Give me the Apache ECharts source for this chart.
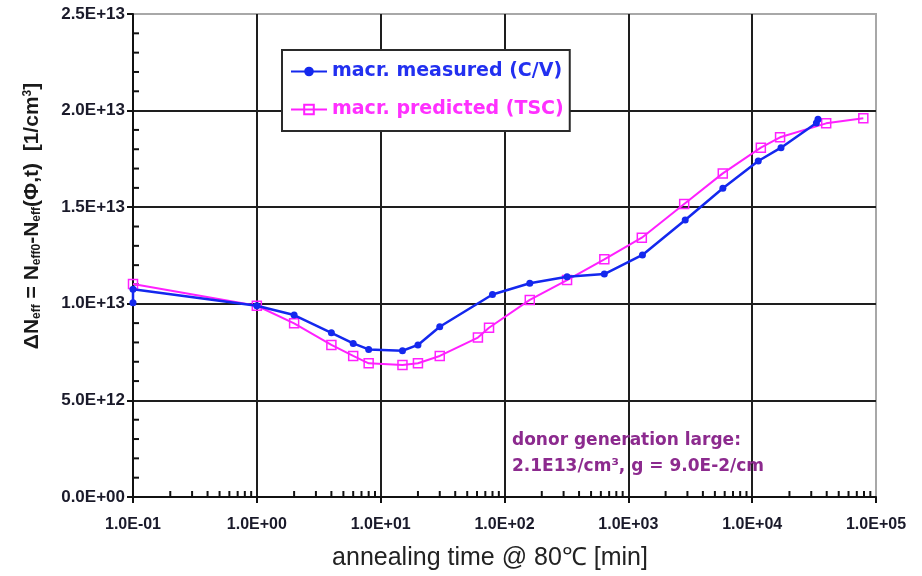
<!DOCTYPE html>
<html>
<head>
<meta charset="utf-8">
<script src="https://cdn.jsdelivr.net/npm/echarts@6/dist/echarts.min.js"></script>
<style>html,body{margin:0;padding:0;background:#fff}#c{width:922px;height:576px}</style>
</head>
<body>
<div id="c"></div>
<script>
// annealing time [min]
const measuredTime = [0.1, 0.1, 1, 2, 4, 6, 8, 15, 20, 30, 80, 160, 320, 640, 1300, 2880, 5800, 11200, 17100, 33000, 34000];
const measuredN = [1.005e13, 1.075e13, 9.9e12, 9.42e12, 8.50e12, 7.95e12, 7.64e12, 7.57e12, 7.87e12, 8.81e12, 1.048e13, 1.106e13, 1.140e13, 1.154e13, 1.253e13, 1.434e13, 1.598e13, 1.739e13, 1.808e13, 1.936e13, 1.955e13];
const predictedTime = [0.1, 1, 2, 4, 6, 8, 15, 20, 30, 61, 75, 160, 320, 640, 1285, 2825, 5790, 11750, 16800, 39600, 79000];
const predictedN = [1.102e13, 9.9e12, 8.99e12, 7.87e12, 7.30e12, 6.92e12, 6.83e12, 6.92e12, 7.30e12, 8.25e12, 8.76e12, 1.020e13, 1.123e13, 1.230e13, 1.342e13, 1.517e13, 1.675e13, 1.808e13, 1.862e13, 1.934e13, 1.960e13];
const xDecades = [0.1, 1, 10, 100, 1000, 10000, 100000];
const yTicks = [0, 5e12, 1e13, 1.5e13, 2e13, 2.5e13];
const seriesNames = ['macr. measured (C/V)', 'macr. predicted (TSC)'];
const annotationLines = ['donor generation large:', '2.1E13/cm³, g = 9.0E-2/cm'];
const xTitle = 'annealing time @ 80℃ [min]';
const yTitle = 'ΔN{s|eff} = N{s|eff0}-N{s|eff}(Φ,t)  [1/cm{p|3}]';

const xMinor = [];
for (let i = 0; i < xDecades.length - 1; i++) for (let k = 2; k <= 9; k++) xMinor.push([xDecades[i] * k, 0]);
const yMinor = [];
for (let i = 0; i < yTicks.length - 1; i++) for (let k = 1; k <= 4; k++) yMinor.push([0.1, yTicks[i] + k * 1e12]);

function expFmt(v) {
  if (v === 0) return '0.0E+00';
  const e = Math.floor(Math.log10(v) + 1e-9);
  const m = v / Math.pow(10, e);
  const a = Math.abs(e);
  return m.toFixed(1) + 'E' + (e < 0 ? '-' : '+') + (a < 10 ? '0' : '') + a;
}

const chart = echarts.init(document.getElementById('c'), null, {renderer: 'canvas'});
const gridColor = '#1e1e1e';
const FF = 'Liberation Sans, Arial, sans-serif';
const option = {
  animation: false,
  grid: {left: 133, top: 14, right: 46, bottom: 79, show: true, borderColor: '#a8a8a8', borderWidth: 2, backgroundColor: 'transparent'},
  legend: {
    left: 282, top: 50, orient: 'vertical', itemWidth: 36, itemHeight: 12, itemGap: 19,
    padding: [12, 6, 12, 8], backgroundColor: '#fff', borderColor: '#2a2a2a', borderWidth: 2, z: 10,
    data: [
      {name: seriesNames[0], textStyle: {color: '#2230f0'}},
      {name: seriesNames[1], textStyle: {color: '#ff30ff'}}
    ],
    textStyle: {fontFamily: 'DejaVu Sans', fontWeight: 'bold', fontSize: 19}
  },
  xAxis: {
    type: 'log', logBase: 10, min: 0.1, max: 100000,
    axisLine: {lineStyle: {color: '#111', width: 2}},
    axisTick: {show: true, length: 6, lineStyle: {color: '#111', width: 2}},
    axisLabel: {formatter: expFmt, margin: 20, fontFamily: FF, fontWeight: 'bold', fontSize: 16, color: '#1a1a2a'},
    splitLine: {show: true, showMaxLine: false, lineStyle: {color: gridColor, width: 2}}
  },
  yAxis: {
    type: 'value', min: 0, max: 2.5e13, interval: 5e12,
    axisLine: {show: true, lineStyle: {color: '#111', width: 2}},
    axisTick: {show: true, length: 6, lineStyle: {color: '#111', width: 2}},
    axisLabel: {formatter: expFmt, margin: 8, fontFamily: FF, fontWeight: 'bold', fontSize: 17, color: '#1a1a2a'},
    splitLine: {show: true, showMaxLine: false, lineStyle: {color: gridColor, width: 2}}
  },
  graphic: [
    {type: 'text', left: 512, top: 428, z: 5,
     style: {text: annotationLines.join('\n'), fill: '#8c2a8e', font: 'bold 17px "DejaVu Sans"', lineHeight: 26}},
    {type: 'text', x: 490, y: 558, z: 5,
     style: {text: xTitle, fill: '#222', font: '25px "Liberation Sans"', align: 'center', verticalAlign: 'middle'}},
    {type: 'text', x: 32, y: 216, rotation: Math.PI / 2, z: 5,
     style: {text: yTitle, fill: '#1a1a1a', font: 'bold 21px "Liberation Sans"', align: 'center', verticalAlign: 'middle',
       rich: {
         s: {font: 'bold 12px "Liberation Sans"', fill: '#1a1a1a', verticalAlign: 'bottom', padding: [8, 0, 0, 0]},
         p: {font: 'bold 12px "Liberation Sans"', fill: '#1a1a1a', verticalAlign: 'top', padding: [0, 0, 8, 0]}
       }}}
  ],
  series: [
    {
      type: 'custom', silent: true, z: 1, clip: false,
      renderItem: function (params, api) {
        const p = api.coord([api.value(0), api.value(1)]);
        return {type: 'line', shape: {x1: p[0], y1: p[1], x2: p[0], y2: p[1] - 6}, style: {stroke: '#111', lineWidth: 2}};
      },
      data: xMinor
    },
    {
      type: 'custom', silent: true, z: 1, clip: false,
      renderItem: function (params, api) {
        const p = api.coord([api.value(0), api.value(1)]);
        return {type: 'line', shape: {x1: p[0], y1: p[1], x2: p[0] + 6, y2: p[1]}, style: {stroke: '#111', lineWidth: 2}};
      },
      data: yMinor
    },
    {
      name: seriesNames[1], type: 'line', z: 3,
      data: predictedTime.map((t, i) => [t, predictedN[i]]),
      color: '#ff20ff',
      symbol: 'rect', symbolSize: 9,
      lineStyle: {color: '#ff20ff', width: 2},
      itemStyle: {color: 'rgba(255,255,255,0)', borderColor: '#ff20ff', borderWidth: 1.5}
    },
    {
      name: seriesNames[0], type: 'line', z: 4,
      data: measuredTime.map((t, i) => [t, measuredN[i]]),
      color: '#1428ee',
      symbol: 'circle', symbolSize: 7,
      lineStyle: {color: '#1428ee', width: 2.5},
      itemStyle: {color: '#1428ee'}
    }
  ]
};
chart.setOption(option);
</script>
</body>
</html>
